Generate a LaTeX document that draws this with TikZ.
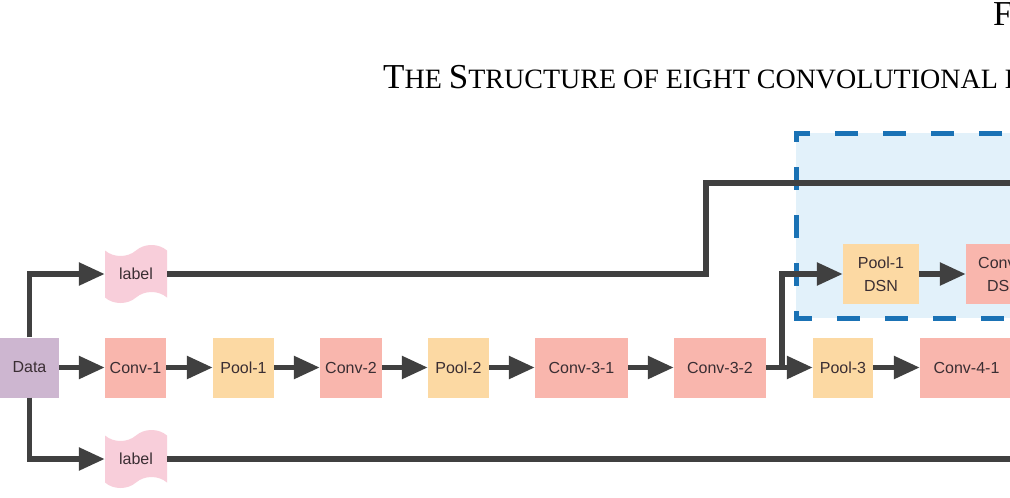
\documentclass[tikz,border=0pt]{standalone}
\usepackage{fontspec}
\setmainfont{Liberation Serif}
\newfontfamily\boxfont{Liberation Sans}
\usetikzlibrary{arrows.meta,shapes.symbols}
\definecolor{datac}{HTML}{CDB6D0}
\definecolor{convc}{HTML}{F9B6AD}
\definecolor{poolc}{HTML}{FCD9A3}
\definecolor{labc}{HTML}{F8CEDA}
\definecolor{dsnfill}{HTML}{E2F1FA}
\definecolor{dsnline}{HTML}{1A72B5}
\definecolor{linec}{HTML}{404040}
\definecolor{txtc}{HTML}{3A2E33}
\newcommand\BigC[1]{{\fontsize{35}{40}\selectfont #1}}
\newcommand\SmC[1]{{\fontsize{28}{32}\selectfont #1}}
\tikzset{
  blk/.style={draw=none, minimum height=60pt, inner sep=0pt, align=center,
    font=\boxfont\fontsize{16}{23}\selectfont, text=txtc},
  datab/.style={blk, fill=datac},
  convb/.style={blk, fill=convc},
  poolb/.style={blk, fill=poolc},
  labb/.style={blk, tape, fill=labc, minimum height=58pt, minimum width=62pt, tape bend height=11pt},
  conn/.style={draw=linec, line width=5.5pt},
  arr/.style={conn, -{Triangle[length=26pt,width=22pt]}},
}
\begin{document}
\begin{tikzpicture}[x=1pt,y=-1pt]
\useasboundingbox (0,0) rectangle (1010,498);
\fill[white] (0,0) rectangle (1010,498);
% title
\node[anchor=base west, inner sep=0pt] (ttl) at (383,88) {\BigC{T}\SmC{HE }\BigC{S}\SmC{TRUCTURE OF EIGHT CONVOLUTIONAL L}};
\node[anchor=base west, inner sep=0pt] (fig) at (993,25) {\BigC{F}};
% DSN region
\fill[dsnfill] (796,133) rectangle (1030,318);
\draw[dsnline, line width=5pt, dash pattern=on 23pt off 25pt, dash phase=20pt]
  (1030,133) -- (796,133) -- (796,318) -- (1030,318);
% main row
\node[datab, minimum width=59pt] (data) at (29.5,367.5) {Data};
\node[convb, minimum width=61pt] (c1) at (135.5,367.5) {Conv-1};
\node[poolb, minimum width=61pt] (p1) at (243.5,367.5) {Pool-1};
\node[convb, minimum width=62pt] (c2) at (351,367.5) {Conv-2};
\node[poolb, minimum width=61pt] (p2) at (458.5,367.5) {Pool-2};
\node[convb, minimum width=93pt] (c31) at (581.5,367.5) {Conv-3-1};
\node[convb, minimum width=92pt] (c32) at (720,367.5) {Conv-3-2};
\node[poolb, minimum width=60pt] (p3) at (843,367.5) {Pool-3};
\node[convb, minimum width=93pt] (c41) at (966.5,367.5) {Conv-4-1};
% DSN row
\node[poolb, minimum width=76pt] (p1d) at (881,274) {Pool-1\\DSN};
\node[convb, minimum width=76pt] (c1d) at (1004,274) {Conv-1\\DSN};
% labels
\node[labb] (lab1) at (136,274) {label};
\node[labb] (lab2) at (136,459) {label};
% coordinates
\coordinate (k1) at (706,183);
\coordinate (e1) at (1020,183);
\coordinate (e2) at (1020,459);
\coordinate (br) at (782,367.5);
% connectors
\draw[arr] (data) -- (c1);
\draw[arr] (c1) -- (p1);
\draw[arr] (p1) -- (c2);
\draw[arr] (c2) -- (p2);
\draw[arr] (p2) -- (c31);
\draw[arr] (c31) -- (c32);
\draw[arr] (c32) -- (p3);
\draw[arr] (p3) -- (c41);
\draw[arr] (br) |- (p1d.west);
\draw[arr] (p1d) -- (c1d);
\draw[arr] (data.north) |- (lab1.west);
\draw[arr] (data.south) |- (lab2.west);
\draw[conn] (lab1.east) -| (k1) -- (e1);
\draw[conn] (lab2.east) -- (e2);
\end{tikzpicture}
\end{document}
